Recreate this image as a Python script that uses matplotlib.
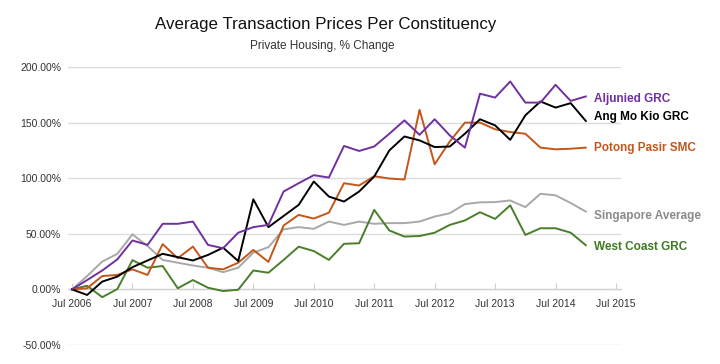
import matplotlib
matplotlib.use('Agg')
import matplotlib.pyplot as plt
import numpy as np

plt.rcParams['font.family'] = ['Liberation Sans', 'DejaVu Sans']

# quarterly points, Jul 2006 .. Jan 2015
years = 2006.5 + 0.25*np.arange(35)

aljunied = [0, 8.4, 17, 27, 44, 40, 59, 59, 61, 40, 37, 51, 56, 58, 88, 95.5, 102.7, 100.6,
            129, 124.5, 128.5, 140, 152, 139, 153, 138.5, 127.5, 176, 172.5, 187, 168, 168,
            184, 169.5, 173.5]
angmokio = [0, -5, 7, 11.5, 20, 26, 32, 29, 26, 31, 37.5, 25.5, 81, 56, 66, 76, 97, 83.5,
            79, 88, 101.5, 125, 137.5, 134, 128, 128.5, 140, 153, 147.5, 134.5, 156.5, 169,
            163.5, 167.5, 151.5]
potong = [0, 1, 12, 13, 18, 13, 40.7, 28, 38.5, 19.5, 18, 24, 35.5, 24.7, 57.4, 67, 63.7, 69,
          95.5, 93.4, 101.8, 99.7, 98.8, 161.5, 112.5, 133, 150, 150, 144, 141.5, 140, 127.5,
          126, 126.5, 127.5]
sg_avg = [0, 12, 25, 32, 49.5, 39, 26.5, 24, 21.5, 19.5, 15.5, 19.5, 33, 38, 54, 56, 54.5, 61,
          58, 61, 59, 59.6, 59.6, 61, 65.5, 68.5, 76.7, 78.3, 78.5, 80, 74, 86, 84.6, 77.7, 70]
westcoast = [0, 3.3, -7, 0.3, 26.3, 19.5, 21, 1, 8.4, 1.5, -1.5, -0.3, 17, 15, 26.5, 38.4,
             34.5, 26.5, 41, 41.5, 71.5, 53, 47.5, 48, 51, 58, 62, 69.4, 63.4, 75.6, 49, 55,
             55, 51, 39.8]

names = ['Aljunied GRC', 'Ang Mo Kio GRC', 'Potong Pasir SMC', 'Singapore Average', 'West Coast GRC']
line_cols = ['#7030a0', '#000000', '#c5561a', '#a8a8a8', '#4a7e2a']
text_cols = ['#7030a0', '#000000', '#c5561a', '#8a8a8a', '#3f7a22']
label_y = [171, 155, 127, 66, 38]

xticks = np.arange(2006.5, 2015.6, 1)
xlabels = ['Jul %d' % int(t) for t in xticks]
yticks = [-50, 0, 50, 100, 150, 200]

fig = plt.figure(figsize=(7.2, 3.64), dpi=100)
ax = fig.add_axes([68/720, 19/364, 553/720, 278/364])

for y in yticks:
    ax.axhline(y, color='#dcdcdc', lw=1, zorder=0)

series = [aljunied, angmokio, potong, sg_avg, westcoast]
# draw gray/green first so others sit on top
for k in [3, 4, 2, 1, 0]:
    ax.plot(years, series[k], color=line_cols[k], lw=1.4, zorder=3)

for k in range(5):
    ax.text(2015.14, label_y[k], names[k], color=text_cols[k], fontsize=8.5,
            fontweight='bold', va='center', ha='left')

ax.set_xlim(2006.5 - 4/60.4, 2015.5 + 5/60.4)
ax.set_ylim(-50, 200)
for s in ['top', 'right', 'left']:
    ax.spines[s].set_visible(False)
ax.spines['bottom'].set_position(('data', 0))
ax.spines['bottom'].set_color('#cfcfcf')
ax.set_xticks(xticks)
ax.set_xticklabels(xlabels)
ax.set_yticks(yticks)
ax.set_yticklabels(['%.2f%%' % v for v in yticks])
ax.tick_params(axis='x', direction='in', length=4, color='#cfcfcf', labelsize=7.5,
               labelcolor='#333333', pad=7)
ax.tick_params(axis='y', length=0, labelsize=7.5, labelcolor='#333333', pad=5)

fig.text(326/720, 1 - 25/364, 'Average Transaction Prices Per Constituency', fontsize=12.2,
         ha='center', va='center', color='#111111')
fig.text(322/720, 1 - 46/364, 'Private Housing, % Change', fontsize=8.5,
         ha='center', va='center', color='#333333')

plt.savefig('out.png', dpi=100)
